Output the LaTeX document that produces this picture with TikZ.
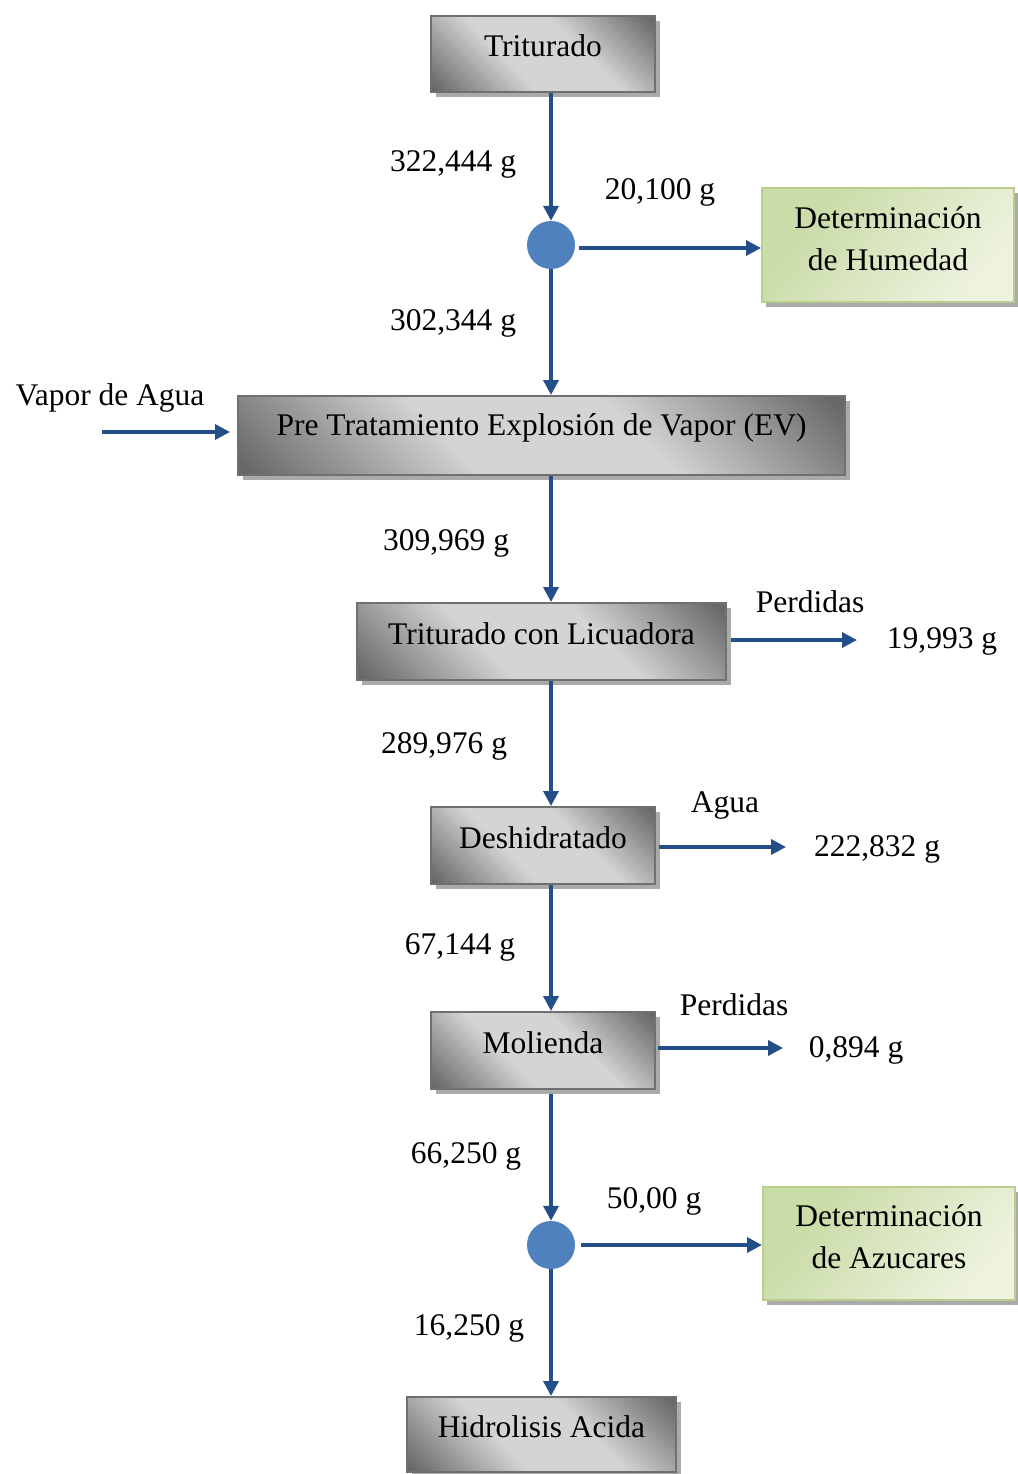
\documentclass[tikz,border=0pt]{standalone}
\usepackage{fontspec}
\setmainfont{Liberation Serif}
\usetikzlibrary{arrows.meta,shadows}

\definecolor{flowblue}{RGB}{35,78,135}
\definecolor{dotblue}{RGB}{79,129,189}
\definecolor{boxdark}{RGB}{104,104,104}
\definecolor{boxlight}{RGB}{212,212,212}
\definecolor{boxedge}{RGB}{112,112,112}
\definecolor{greenA}{RGB}{202,220,168}
\definecolor{greenB}{RGB}{238,243,224}
\definecolor{greenedge}{RGB}{185,205,140}
\definecolor{shade}{RGB}{170,170,170}

\pgfdeclarehorizontalshading{steelband}{100bp}{%
  color(0bp)=(boxdark); color(16bp)=(boxdark); color(40bp)=(boxlight);
  color(60bp)=(boxlight); color(84bp)=(boxdark); color(100bp)=(boxdark)}
\pgfdeclarehorizontalshading{leafband}{100bp}{%
  color(0bp)=(greenA); color(30bp)=(greenA); color(75bp)=(greenB); color(100bp)=(greenB)}

\newcommand{\lifttext}[2][8pt]{\raisebox{#1}[\height][\depth]{#2}}
\newcommand{\twolines}[2]{\lifttext[4pt]{\begin{tabular}{@{}c@{}}#1\\#2\end{tabular}}}

\tikzset{
  every node/.style={font=\fontsize{31.5}{42}\selectfont},
  stagebox/.style={draw=boxedge, line width=2pt, shading=steelband, shading angle=45,
    inner sep=0pt,
    drop shadow={fill=shade, opacity=1, shadow xshift=5pt, shadow yshift=-5pt}},
  testbox/.style={draw=greenedge, line width=2pt, shading=leafband, shading angle=-40,
    inner sep=0pt,
    drop shadow={fill=shade, opacity=1, shadow xshift=4pt, shadow yshift=-5pt}},
  splitdot/.style={circle, fill=dotblue, minimum size=48pt, inner sep=0pt},
  flow/.style={draw=flowblue, line width=3.5pt, -{Triangle[length=15pt,width=15pt]}},
  qty/.style={anchor=base, inner sep=0pt},
}

\begin{document}
\begin{tikzpicture}[x=1pt,y=-1pt]
\useasboundingbox (0,0) rectangle (1017,1474);

% process stages
\node[stagebox, minimum width=224pt, minimum height=76pt] (tri) at (543,54) {\lifttext{Triturado}};
\node[stagebox, minimum width=607pt, minimum height=79pt] (pre) at (541.5,435.5) {\lifttext{Pre Tratamiento Explosión de Vapor (EV)}};
\node[stagebox, minimum width=369pt, minimum height=77pt] (lic) at (541.5,641.5) {\lifttext{Triturado con Licuadora}};
\node[stagebox, minimum width=224pt, minimum height=77pt] (des) at (543,845.5) {\lifttext{Deshidratado}};
\node[stagebox, minimum width=224pt, minimum height=77pt] (mol) at (543,1050.5) {\lifttext{Molienda}};
\node[stagebox, minimum width=269pt, minimum height=75pt] (hid) at (541.5,1434.5) {\lifttext{Hidrolisis Acida}};

% analysis boxes
\node[testbox, minimum width=252pt, minimum height=114pt] (hum) at (888,245) {\twolines{Determinación}{de Humedad}};
\node[testbox, minimum width=252pt, minimum height=113pt] (azu) at (889,1243.5) {\twolines{Determinación}{de Azucares}};

% split points
\node[splitdot] (s1) at (551,245) {};
\node[splitdot] (s2) at (551,1245) {};

% free ends of side streams
\coordinate (vin) at (102,432);
\coordinate (lout) at (857,640);
\coordinate (dout) at (786,847);
\coordinate (mout) at (783,1048);

% main line
\draw[flow] (tri.south -| s1) -- (s1.north);
\draw[flow] (s1.south) -- (pre.north -| s1);
\draw[flow] (pre.south -| s1) -- (lic.north -| s1);
\draw[flow] (lic.south -| s1) -- (des.north -| s1);
\draw[flow] (des.south -| s1) -- (mol.north -| s1);
\draw[flow] ([yshift=-4pt]mol.south -| s2) -- (s2.north);
\draw[flow] (s2.south) -- (hid.north -| s2);

% side streams
\draw[flow, shorten <=4pt] (s1.east |- 0,248) -- (hum.west |- 0,248);
\draw[flow, shorten <=6pt] (s2.east) -- (azu.west |- s2);
\draw[flow, shorten >=7pt] (vin) -- (pre.west |- vin);
\draw[flow, shorten <=4pt] (lic.east |- lout) -- (lout);
\draw[flow, shorten <=3pt] (des.east |- dout) -- (dout);
\draw[flow, shorten <=2pt] (mol.east |- mout) -- (mout);

% quantities
\node[qty] (q1) at (453,172) {322,444 g};
\node[qty] (q2) at (660,200) {20,100 g};
\node[qty] (q3) at (453,330) {302,344 g};
\node[qty] (va) at (110,405) {Vapor de Agua};
\node[qty] (q4) at (446,550) {309,969 g};
\node[qty] (p1) at (810,612) {Perdidas};
\node[qty] (q5) at (942,648) {19,993 g};
\node[qty] (q6) at (444,753) {289,976 g};
\node[qty] (ag) at (725,812) {Agua};
\node[qty] (q7) at (877,856) {222,832 g};
\node[qty] (q8) at (460,954) {67,144 g};
\node[qty] (p2) at (734,1015) {Perdidas};
\node[qty] (q9) at (856,1057) {0,894 g};
\node[qty] (q10) at (466,1163) {66,250 g};
\node[qty] (q11) at (654,1208) {50,00 g};
\node[qty] (q12) at (469,1335) {16,250 g};
\end{tikzpicture}
\end{document}
